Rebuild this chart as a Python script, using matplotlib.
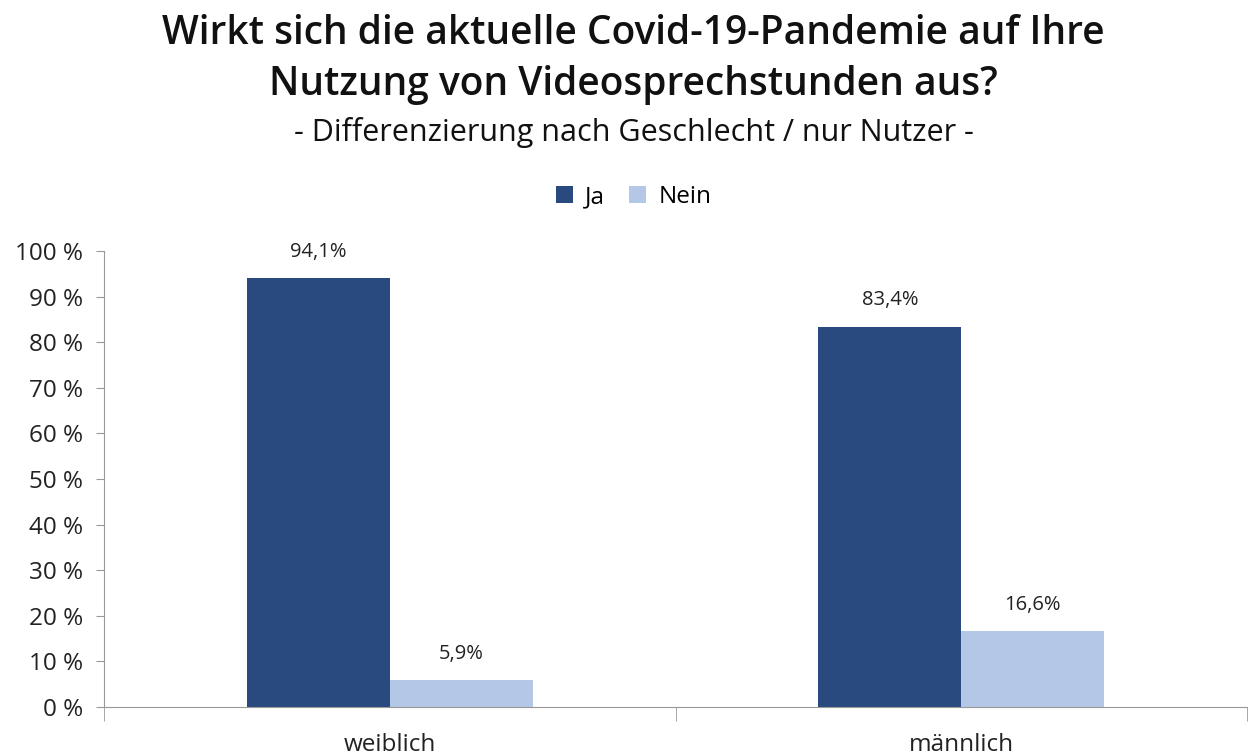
import matplotlib.pyplot as plt
import numpy as np

plt.rcParams['font.family'] = ['Open Sans', 'DejaVu Sans']

categories = ["weiblich", "männlich"]
ja = [94.1, 83.4]
nein = [5.9, 16.6]
ja_labels = ["94,1%", "83,4%"]
nein_labels = ["5,9%", "16,6%"]
yticks = [0, 10, 20, 30, 40, 50, 60, 70, 80, 90, 100]

fig = plt.figure(figsize=(12.5, 7.55), dpi=100)
ax = fig.add_axes([0.0832, 0.0636, 0.9144, 0.6039])

x = np.arange(len(categories))
w = 0.25
b1 = ax.bar(x - w / 2, ja, w, color="#284A7E", label="Ja")
b2 = ax.bar(x + w / 2, nein, w, color="#B4C7E7", label="Nein")

for rect, lab in zip(b1, ja_labels):
    ax.text(rect.get_x() + rect.get_width() / 2, rect.get_height() + 3.6, lab,
            ha="center", va="bottom", fontsize=14.5, color="#222222")
for rect, lab in zip(b2, nein_labels):
    ax.text(rect.get_x() + rect.get_width() / 2, rect.get_height() + 3.6, lab,
            ha="center", va="bottom", fontsize=14.5, color="#222222")

ax.set_xlim(-0.5, len(categories) - 0.5)
ax.set_ylim(0, 100)
ax.set_yticks(yticks)
ax.set_yticklabels([f"{t} %" for t in yticks], fontsize=17.5, color="#222222")
ax.set_xticks(x)
ax.set_xticklabels(categories, fontsize=17.5, color="#222222")
ax.set_xticks(np.arange(-0.5, len(categories), 1), minor=True)
ax.tick_params(axis="x", which="major", length=0, pad=19)
ax.tick_params(axis="x", which="minor", length=10, color="#999999")
ax.tick_params(axis="y", length=6, color="#999999", pad=9)

for s in ["top", "right"]:
    ax.spines[s].set_visible(False)
ax.spines["left"].set_color("#999999")
ax.spines["bottom"].set_color("#999999")

fig.text(0.507, 0.955, "Wirkt sich die aktuelle Covid-19-Pandemie auf Ihre",
         ha="center", va="center", fontsize=28, fontweight="semibold", color="#111111")
fig.text(0.507, 0.887, "Nutzung von Videosprechstunden aus?",
         ha="center", va="center", fontsize=28, fontweight="semibold", color="#111111")
fig.text(0.507, 0.824, "- Differenzierung nach Geschlecht / nur Nutzer -",
         ha="center", va="center", fontsize=22, color="#111111")

fig.legend(handles=[b1, b2], loc="center", bbox_to_anchor=(0.507, 0.739), ncol=2,
           frameon=False, fontsize=17.5, handlelength=0.7, handleheight=0.7,
           columnspacing=1.0, handletextpad=0.5)

fig.savefig("out.png", dpi=100)
